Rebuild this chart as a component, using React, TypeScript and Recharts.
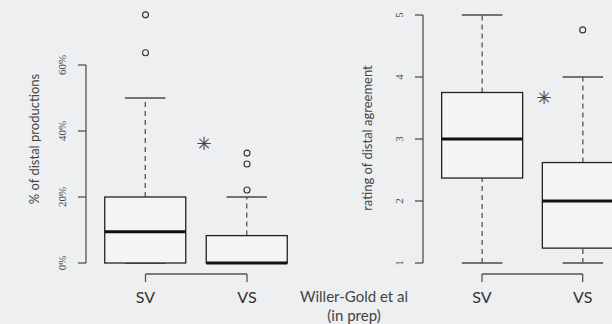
import React from "react";
import { ComposedChart, LineChart, Bar, XAxis, YAxis, ReferenceDot } from "recharts";

const categories = ["SV", "VS"];

// left panel: % of distal productions
const prodMin = [0, 0];
const prodQ1 = [0, 0];
const prodMedian = [9.5, 0];
const prodQ3 = [20, 8.3];
const prodMax = [50, 20];
const prodOutliersSV = [63.7, 75.2];
const prodOutliersVS = [22.1, 30, 33.3];
const prodTicks = [0, 20, 40, 60];

// right panel: rating of distal agreement
const rateMin = [1, 1];
const rateQ1 = [2.37, 1.24];
const rateMedian = [3, 2];
const rateQ3 = [3.75, 2.62];
const rateMax = [5, 4];
const rateOutliersSV: number[] = [];
const rateOutliersVS = [4.76];
const rateTicks = [1, 2, 3, 4, 5];

const BG = "#edeff1";
const AXIS = "#444";

const buildRows = (mn: number[], q1: number[], md: number[], q3: number[], mx: number[]) =>
  categories.map((name, i) => ({ name, min: mn[i], q1: q1[i], median: md[i], q3: q3[i], max: mx[i] }));

const prodRows = buildRows(prodMin, prodQ1, prodMedian, prodQ3, prodMax);
const rateRows = buildRows(rateMin, rateQ1, rateMedian, rateQ3, rateMax);
const catRows = categories.map((name) => ({ name }));

function BoxShape(props: any) {
  const { x, y, width, height, payload } = props;
  const top = Math.min(y, y + height);
  const h = Math.abs(height);
  const { min, q1, median, q3, max } = payload;
  const py = (v: number) => top + (h * (max - v)) / (max - min);
  const cx = x + width / 2;
  const cap = width / 4;
  return (
    <g>
      {q1 > min && (
        <line x1={cx} x2={cx} y1={py(min)} y2={py(q1)} stroke="#555" strokeWidth={1.3} strokeDasharray="5 4" />
      )}
      {max > q3 && (
        <line x1={cx} x2={cx} y1={py(q3)} y2={py(max)} stroke="#555" strokeWidth={1.3} strokeDasharray="5 4" />
      )}
      <line x1={cx - cap} x2={cx + cap} y1={py(min)} y2={py(min)} stroke="#4a4a4a" strokeWidth={1.5} />
      <line x1={cx - cap} x2={cx + cap} y1={py(max)} y2={py(max)} stroke="#4a4a4a" strokeWidth={1.5} />
      <rect x={x} y={py(q3)} width={width} height={py(q1) - py(q3)} fill="#f4f5f7" stroke="#222" strokeWidth={1.3} />
      <line x1={x} x2={x + width} y1={py(median)} y2={py(median)} stroke="#111" strokeWidth={3} />
    </g>
  );
}

function RotTick(props: any) {
  const { x, y, payload, fmt } = props;
  return (
    <text
      transform={`translate(${x - 10},${y}) rotate(-90)`}
      textAnchor="middle"
      fontSize={11}
      fontFamily="Liberation Serif"
      fill={AXIS}
    >
      {fmt(payload.value)}
    </text>
  );
}

function Outliers(cat: string, vals: number[]) {
  return vals.map((v, i) => (
    <ReferenceDot
      key={`${cat}-${i}`}
      x={cat}
      y={v}
      r={3}
      fill="none"
      stroke="#333"
      strokeWidth={1.1}
      ifOverflow="visible"
    />
  ));
}

const abs = (left: number, top: number): React.CSSProperties => ({ position: "absolute", left, top });

function VTitle({ cx, cy, text }: { cx: number; cy: number; text: string }) {
  return (
    <div
      style={{
        position: "absolute",
        left: cx,
        top: cy,
        transform: "translate(-50%, -50%) rotate(-90deg)",
        whiteSpace: "nowrap",
        fontFamily: "Lato",
        fontSize: 13,
        color: AXIS,
      }}
    >
      {text}
    </div>
  );
}

// significance markers
const stars = [
  { cx: 204, cy: 143 },
  { cx: 544, cy: 97 },
];

export default function App() {
  return (
    <div style={{ position: "absolute", left: 0, top: 0, width: 612, height: 324, overflow: "hidden", background: BG }}>
      {/* left panel */}
      <div style={abs(0, 0)}>
        <ComposedChart width={306} height={324} data={prodRows} margin={{ top: 65, bottom: 61, left: 26, right: 8.25 }}>
          <XAxis dataKey="name" hide padding={{ left: 8.75, right: 0 }} />
          <YAxis
            domain={[0, 60]}
            ticks={prodTicks}
            width={60}
            tickSize={8}
            axisLine={{ stroke: AXIS, strokeWidth: 1.2 }}
            tickLine={{ stroke: AXIS, strokeWidth: 1.2 }}
            tick={(p: any) => <RotTick {...p} fmt={(v: number) => `${v}%`} />}
          />
          <Bar dataKey={(d: any) => [d.min, d.max]} barSize={81} shape={(p: any) => <BoxShape {...p} />} isAnimationActive={false} />
          {Outliers("SV", prodOutliersSV)}
          {Outliers("VS", prodOutliersVS)}
        </ComposedChart>
      </div>
      <div style={abs(0, 0)}>
        <LineChart width={306} height={324} data={catRows} margin={{ top: 10, bottom: 10, left: 145.5, right: 59 }}>
          <XAxis
            dataKey="name"
            scale="point"
            height={40}
            tickSize={8}
            tickMargin={10}
            interval={0}
            axisLine={{ stroke: "#555", strokeWidth: 1.3 }}
            tickLine={{ stroke: "#555", strokeWidth: 1.3 }}
            tick={{ fontSize: 16, fill: "#333", fontFamily: "Lato" }}
          />
          <YAxis hide />
        </LineChart>
      </div>

      {/* right panel */}
      <div style={abs(306, 0)}>
        <ComposedChart width={340} height={324} data={rateRows} margin={{ top: 15, bottom: 61, left: 57, right: 12.95 }}>
          <XAxis dataKey="name" hide padding={{ left: 8.65, right: 0 }} />
          <YAxis
            domain={[1, 5]}
            ticks={rateTicks}
            width={60}
            tickSize={8}
            axisLine={{ stroke: AXIS, strokeWidth: 1.2 }}
            tickLine={{ stroke: AXIS, strokeWidth: 1.2 }}
            tick={(p: any) => <RotTick {...p} fmt={(v: number) => `${v}`} />}
          />
          <Bar dataKey={(d: any) => [d.min, d.max]} barSize={81} shape={(p: any) => <BoxShape {...p} />} isAnimationActive={false} />
          {Outliers("SV", rateOutliersSV)}
          {Outliers("VS", rateOutliersVS)}
        </ComposedChart>
      </div>
      <div style={abs(306, 0)}>
        <LineChart width={340} height={324} data={catRows} margin={{ top: 10, bottom: 10, left: 176, right: 63.3 }}>
          <XAxis
            dataKey="name"
            scale="point"
            height={40}
            tickSize={8}
            tickMargin={10}
            interval={0}
            axisLine={{ stroke: "#555", strokeWidth: 1.3 }}
            tickLine={{ stroke: "#555", strokeWidth: 1.3 }}
            tick={{ fontSize: 16, fill: "#333", fontFamily: "Lato" }}
          />
          <YAxis hide />
        </LineChart>
      </div>

      <VTitle cx={33.5} cy={139} text="% of distal productions" />
      <VTitle cx={367} cy={137.5} text="rating of distal agreement" />

      <svg width={612} height={324} style={{ position: "absolute", left: 0, top: 0, opacity: 0.99 }}>
        {stars.map((s, i) => (
          <text
            key={i}
            x={s.cx}
            y={s.cy}
            textAnchor="middle"
            dominantBaseline="central"
            fontFamily="DejaVu Sans"
            fontSize={18}
            fill="#444"
            stroke="#444"
            strokeWidth={0.15}
          >
            {"\u2733"}
          </text>
        ))}
      </svg>

      <div
        style={{
          position: "absolute",
          left: 354,
          top: 296,
          transform: "translate(-50%, -50%)",
          fontFamily: "Lato",
          fontSize: 15,
          lineHeight: "18px",
          color: AXIS,
          whiteSpace: "nowrap",
        }}
      >
        Willer-Gold et al
      </div>
      <div
        style={{
          position: "absolute",
          left: 354,
          top: 315,
          transform: "translate(-50%, -50%)",
          fontFamily: "Lato",
          fontSize: 15,
          lineHeight: "18px",
          color: AXIS,
          whiteSpace: "nowrap",
        }}
      >
        (in prep)
      </div>
    </div>
  );
}
